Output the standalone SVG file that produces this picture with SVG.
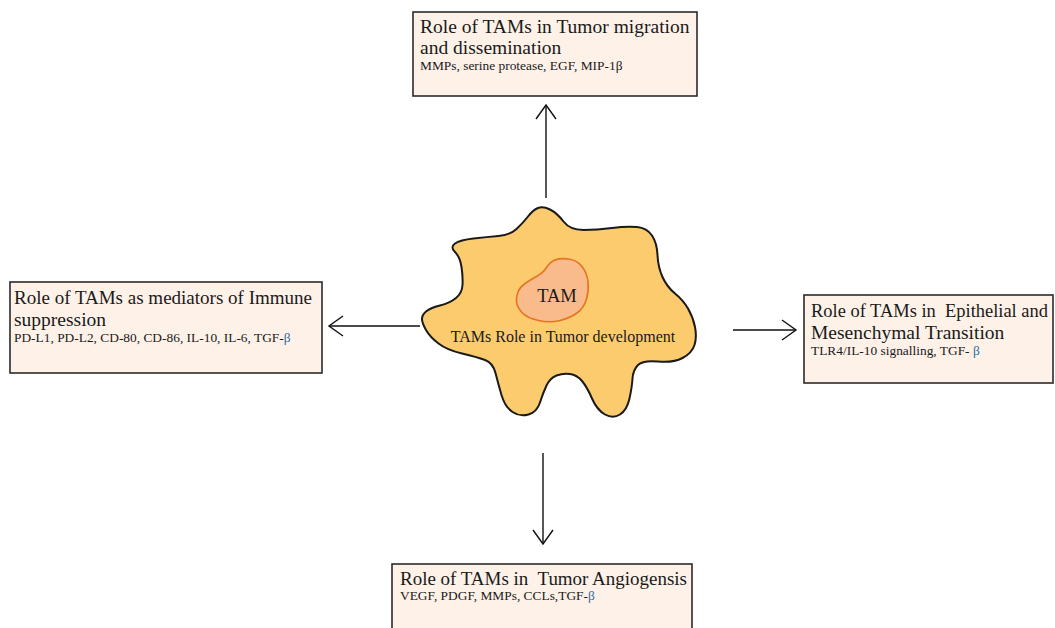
<svg xmlns="http://www.w3.org/2000/svg" width="1055" height="628" viewBox="0 0 1055 628">
<style>
.box{fill:#fdf1e8;stroke:#2b2b2b;stroke-width:1.6}
.t{font-family:"Liberation Serif","Times New Roman",serif;fill:#1a1a1a}
.h{font-size:19.5px}
.s{font-size:13.4px}
.b{fill:#2e6da4}
.conn{stroke:#111;stroke-width:1.4;fill:none}
</style>
<defs>
<marker id="arr" markerUnits="userSpaceOnUse" markerWidth="18" markerHeight="24" viewBox="0 0 18 24" refX="16" refY="12" orient="auto">
<path d="M2,2 L16,12 L2,22" fill="none" stroke="#111" stroke-width="1.4"/>
</marker>
</defs>
<rect width="1055" height="628" fill="#ffffff"/>

<g id="connectors">
<line class="conn" x1="546" y1="198" x2="546" y2="105" marker-end="url(#arr)"/>
<line class="conn" x1="420" y1="326" x2="329" y2="326" marker-end="url(#arr)"/>
<line class="conn" x1="733" y1="330" x2="796" y2="330" marker-end="url(#arr)"/>
<line class="conn" x1="543" y1="453" x2="543" y2="544" marker-end="url(#arr)"/>
</g>

<g id="tam">
<path d="M538,208 Q543,206 550,209.5 Q557,213 563.5,221.5 Q570,230 583.5,230 Q597,230 612,228 Q627,226 637,227 Q647,228 652,235.5 Q657,243 657.5,255 Q658,267 662.5,277 Q667,287 675,293.5 Q683,300 688,308.5 Q693,317 695,327 Q697,337 694.5,345 Q692,353 682.5,358 Q673,363 658,361.5 Q643,360 638,365 Q633,370 632.5,378.5 Q632,387 629.5,398.5 Q627,410 620,414.5 Q613,419 605,414.5 Q597,410 592,398.5 Q587,387 582,381 Q577,375 570,374 Q563,373 556.5,375.5 Q550,378 546.5,385.5 Q543,393 540,402.5 Q537,412 528.5,414.5 Q520,417 512.5,412 Q505,407 501.5,395 Q498,383 495.5,373 Q493,363 485,360 Q477,357 462,353.5 Q447,350 438.5,343.5 Q430,337 426,330 Q422,323 422,319 Q422,315 426,311.5 Q430,308 440,305.5 Q450,303 456,298 Q462,293 462.5,285 Q463,277 461.5,267 Q460,257 455,252 Q450,247 455,243.5 Q460,240 473.5,238.5 Q487,237 498.5,236 Q510,235 516.5,229 Q523,223 528,216.5 Q533,210 538,208 Z" fill="#fccb6e" stroke="#1a1a1a" stroke-width="2"/>
<path d="M518,292 Q520,287 525,283.5 Q530,280 536.5,276.5 Q543,273 546.5,267.5 Q550,262 555,260 Q560,258 568.5,259 Q577,260 582,266.5 Q587,273 588,281.5 Q589,290 586.5,299 Q584,308 577,313 Q570,318 560,320.5 Q550,323 538.5,320.5 Q527,318 522,312.5 Q517,307 516.5,302 Q516,297 518,292 Z" fill="#f9bb8c" stroke="#e8731e" stroke-width="1.6"/>
<text class="t" x="557" y="302" font-size="18.5" text-anchor="middle">TAM</text>
<text class="t" x="563" y="342" font-size="16" text-anchor="middle">TAMs Role in Tumor development</text>
</g>

<g id="migration">
<rect class="box" x="413" y="12" width="284" height="84"/>
<text class="t h" x="420" y="33">Role of TAMs in Tumor migration</text>
<text class="t h" x="420" y="54">and dissemination</text>
<text class="t s" x="420" y="70">MMPs, serine protease, EGF, MIP-1β</text>
</g>

<g id="immune">
<rect class="box" x="10" y="282" width="312" height="91"/>
<text class="t h" x="14" y="304" textLength="298" lengthAdjust="spacingAndGlyphs">Role of TAMs as mediators of Immune</text>
<text class="t h" x="14" y="326">suppression</text>
<text class="t s" x="14" y="342">PD-L1, PD-L2, CD-80, CD-86, IL-10, IL-6, TGF-<tspan class="b">β</tspan></text>
</g>

<g id="emt">
<rect class="box" x="804" y="295" width="249" height="88"/>
<text class="t" x="811" y="317" font-size="18.6" textLength="237" lengthAdjust="spacingAndGlyphs">Role of TAMs in&#160; Epithelial and</text>
<text class="t h" x="811" y="339">Mesenchymal Transition</text>
<text class="t s" x="811" y="355">TLR4/IL-10 signalling, TGF- <tspan class="b">β</tspan></text>
</g>

<g id="angio">
<rect class="box" x="392" y="564" width="300" height="70"/>
<text class="t h" x="400" y="585" textLength="287" lengthAdjust="spacingAndGlyphs">Role of TAMs in&#160; Tumor Angiogensis</text>
<text class="t s" x="400" y="600">VEGF, PDGF, MMPs, CCLs,TGF-<tspan class="b">β</tspan></text>
</g>
</svg>
